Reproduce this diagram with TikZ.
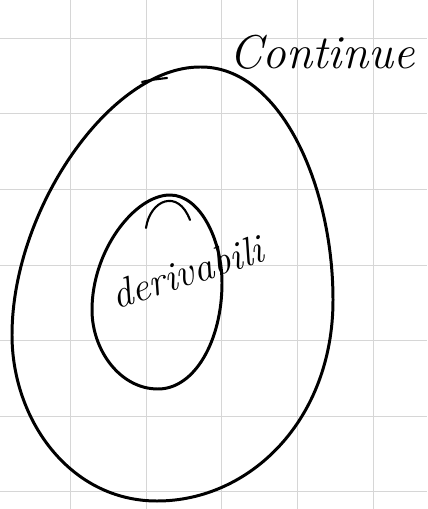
\documentclass[tikz,border=0pt]{standalone}
\usepackage{tikz}
\usetikzlibrary{calc}
\definecolor{griglia}{RGB}{214,214,214}

\begin{document}
\begin{tikzpicture}[x=0.02cm,y=-0.02cm,
				tratto/.style={line width=1.7pt,line cap=round,line join=round},
				every node/.style={inner sep=0pt}]
				\useasboundingbox (0,0) rectangle (427,509);
				\fill[white] (0,0) rectangle (427,509);
				% quadretti
				\foreach \i in {0,...,4}
					\draw[griglia,line width=0.6pt] ({70.7+75.6*\i},0) -- ({70.7+75.6*\i},509);
				\foreach \j in {0,...,6}
					\draw[griglia,line width=0.6pt] (0,{38.3+75.6*\j}) -- (427,{38.3+75.6*\j});
				% insieme grande
				\draw[tratto] (200,67) .. controls (280,66) and (333,185) .. (333,300)
					.. controls (333,420) and (250,501) .. (157,501)
					.. controls (70,501) and (12,420) .. (12,335)
					.. controls (12,210) and (110,67) .. (200,67);
				\draw[tratto,line width=1.2pt] (142,82) .. controls (150,80) .. (167,78);
				% insieme piccolo
				\draw[tratto] (170,195) .. controls (200,195) and (222,240) .. (222,283)
					.. controls (222,340) and (195,389) .. (158,389)
					.. controls (120,389) and (92,350) .. (92,310)
					.. controls (92,250) and (135,195) .. (170,195);
				\draw[tratto,line width=1.2pt] (146,228) .. controls (150,200) and (178,188) .. (190,220);
				% etichette
				\node (cont) at (322,52) {\fontsize{27}{30}\selectfont\itshape Continue};
				\node[rotate=18] (der) at (187,272) {\fontsize{23}{26}\selectfont\itshape derivabili};
			\end{tikzpicture}
\end{document}
